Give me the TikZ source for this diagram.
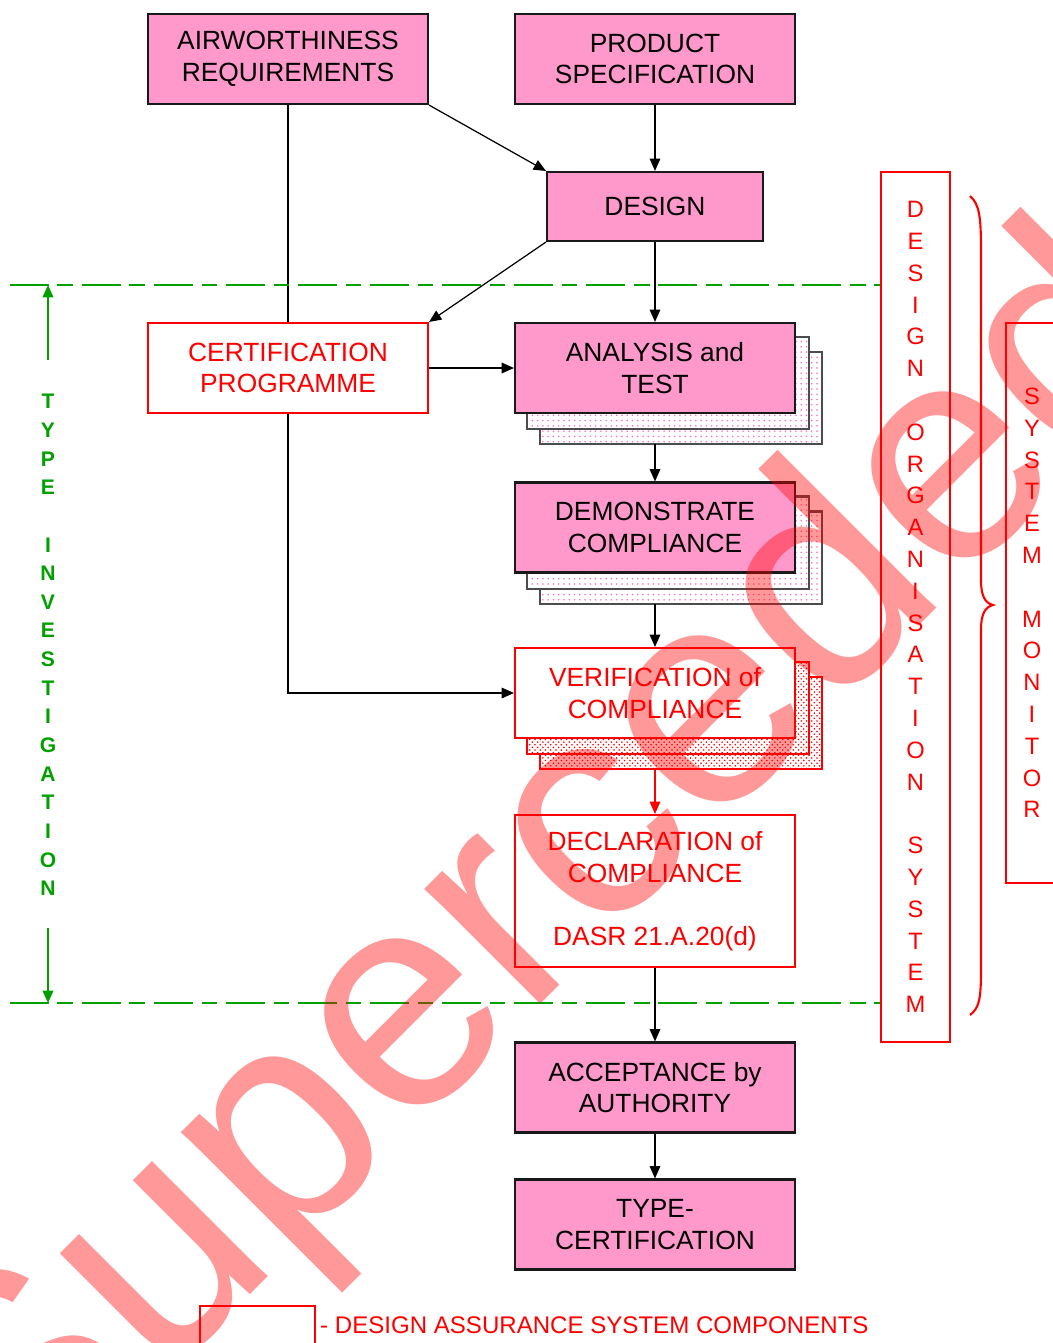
\documentclass[tikz,border=0pt]{standalone}
\usepackage{fontspec}
\setmainfont{Liberation Sans}
\usetikzlibrary{calc,patterns,arrows.meta,backgrounds}
\definecolor{boxpink}{RGB}{255,153,204}
\definecolor{dotpink}{RGB}{255,110,190}
\definecolor{tigreen}{RGB}{0,160,0}
\def\stackshadow[#1](#2){\begin{pgfonlayer}{background}
		\foreach \s in {2,1}
			\draw[#1,preaction={fill=white}] ($(#2.south west)+(\s*13,\s*15)$) rectangle ($(#2.north east)+(\s*13,\s*15)$);
	\end{pgfonlayer}
	\coordinate (#2 back) at ($(#2.south)+(0,30)$);}

\begin{document}
\begin{tikzpicture}[x=0.02cm, y=-0.02cm,
		every node/.style={font=\fontsize{15}{18}\selectfont, align=center},
		pinkbox/.style={draw=black!90, line width=1.2pt, fill=boxpink, minimum width=5.6cm, minimum height=1.8cm},
		redbox/.style={draw=red, line width=1.2pt, fill=white, text=red, minimum width=5.6cm, minimum height=1.8cm},
		pinkback/.style={draw=black!70, line width=1.2pt, pattern=dots, pattern color=dotpink},
		redback/.style={draw=red, line width=1.2pt, pattern=crosshatch dots, pattern color=red},
		conn/.style={line width=0.7pt, -{Triangle[length=7pt,width=6pt]}},
		plainline/.style={line width=0.7pt},
		gline/.style={tigreen, line width=1.1pt, dash pattern=on 22pt off 5pt on 9pt off 5pt},
		garrow/.style={tigreen, line width=1.1pt, -{Triangle[length=7pt,width=6pt]}},
		sidebox/.style={draw=red, line width=1.2pt, text=red, font=\fontsize{13.5}{18.1}\selectfont}]
		%%%%% START %%%%%
		\useasboundingbox (0,0) rectangle (1053,1343);
		\clip (0,0) rectangle (1053,1343);
		
		% main flow
		\node[pinkbox] (air) at (288,59) {AIRWORTHINESS\\REQUIREMENTS};
		\node[pinkbox] (spec) at (655,59) {PRODUCT\\SPECIFICATION};
		\node[pinkbox, minimum width=4.32cm, minimum height=1.38cm] (design) at (655,206.5) {DESIGN};
		\node[redbox] (cert) at (288,368) {CERTIFICATION\\PROGRAMME};
		\node[pinkbox] (analysis) at (655,368) {ANALYSIS and\\TEST};
		\node[pinkbox] (demo) at (655,527.5) {DEMONSTRATE\\COMPLIANCE};
		\node[redbox] (verif) at (655,693) {VERIFICATION of\\COMPLIANCE};
		\node[redbox, minimum height=3.04cm] (decl) at (655,891) {DECLARATION of\\COMPLIANCE\\[18pt]DASR 21.A.20(d)};
		\node[pinkbox] (accept) at (655,1087.5) {ACCEPTANCE by\\AUTHORITY};
		\node[pinkbox] (tc) at (655,1224.5) {TYPE-\\CERTIFICATION};
		
		\stackshadow[pinkback](analysis)
		\stackshadow[pinkback](demo)
		\stackshadow[redback](verif)
		
		\draw[conn] (spec) -- (design);
		\draw[conn] (air.south east) -- (design.north west);
		\draw[plainline] (air) -- (cert);
		\draw[conn] (design.south west) -- (cert.north east);
		\draw[conn] (design) -- (analysis);
		\draw[conn] (cert) -- (analysis);
		\draw[conn] (analysis back) -- (demo);
		\draw[conn] (demo back) -- (verif);
		\draw[conn] (cert) |- (verif);
		\draw[conn, red] (verif back) -- (decl);
		\draw[conn] (decl) -- (accept);
		\draw[conn] (accept) -- (tc);
		
		% design organisation system
		\node[sidebox, minimum width=1.38cm, minimum height=17.4cm] (dos) at (915.5,607) {D\\E\\S\\I\\G\\N\\[18.1pt]O\\R\\G\\A\\N\\I\\S\\A\\T\\I\\O\\N\\[18.1pt]S\\Y\\S\\T\\E\\M};
		\draw[red, line width=1.2pt] (970,196) .. controls (979,204) and (981,215) .. (981,250) -- (981,580) .. controls (981,596) and (985,603) .. (993,605) .. controls (985,607) and (981,614) .. (981,630) -- (981,970) .. controls (981,1000) and (979,1008) .. (970,1015);
		\node[sidebox, minimum width=1.04cm, minimum height=11.2cm] (monitor) at (1032,603) {S\\Y\\S\\T\\E\\M\\[18.1pt]M\\O\\N\\I\\T\\O\\R};
		
		% type investigation
		\coordinate (topline) at (10,285);
		\coordinate (botline) at (10,1003);
		\draw[gline] (topline) -- (topline -| dos.west);
		\draw[gline] (botline) -- (botline -| dos.west);
		\node[text=tigreen, font=\bfseries\fontsize{12}{16.3}\selectfont] (typeinv) at (48,645) {T\\Y\\P\\E\\[16.3pt]I\\N\\V\\E\\S\\T\\I\\G\\A\\T\\I\\O\\N};
		\coordinate (tiup) at (48,360);
		\coordinate (tidown) at (48,928);
		\draw[garrow] (tiup) -- (tiup |- topline);
		\draw[garrow] (tidown) -- (tidown |- botline);
		
		% legend
		\node[draw=red, line width=1.2pt, minimum width=2.3cm, minimum height=1.6cm] (legbox) at (257.5,1346) {};
		\node[anchor=west, text=red, font=\fontsize{13.7}{16}\selectfont] (legtext) at (314,1325) {- DESIGN ASSURANCE SYSTEM COMPONENTS};
		
		% stamp
		\node[anchor=base west, rotate=45, inner sep=0pt, text=red, text opacity=0.4, font=\fontsize{176}{176}\selectfont] (stamp) at (15,1530) {Superceded};
		%%%%% END %%%%%
\end{tikzpicture}
\end{document}
